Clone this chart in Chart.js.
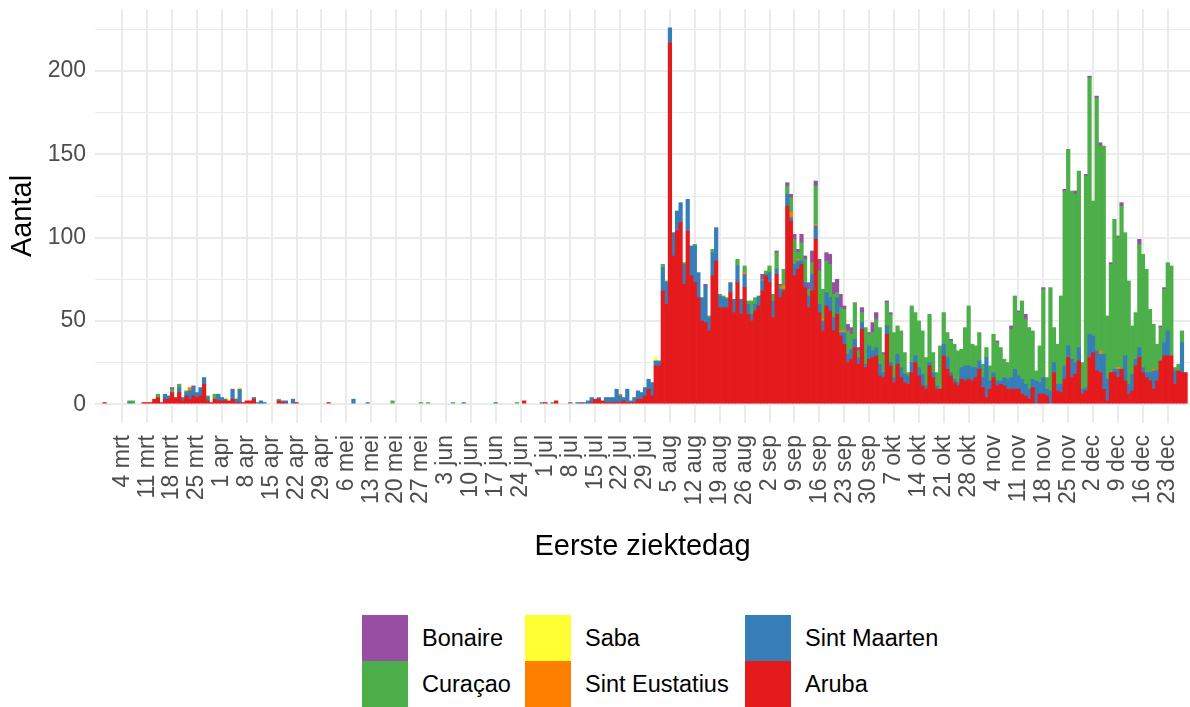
<!DOCTYPE html>
<html lang="nl">
<head>
<meta charset="utf-8">
<title>Eerste ziektedag</title>
<script src="https://cdn.jsdelivr.net/npm/chart.js@4.4.1/dist/chart.umd.min.js"></script>
<style>
  html, body { margin: 0; padding: 0; background: #fff; }
  #wrap { position: relative; width: 1190px; height: 707px; overflow: hidden;
          font-family: "Liberation Sans", Arial, sans-serif; }
  #chart { position: absolute; left: 0; top: 0; }
  .key { position: absolute; width: 46px; height: 46px; }
  .lbl { position: absolute; height: 46px; line-height: 46px; font-size: 23.5px; color: #000; white-space: nowrap; }
</style>
</head>
<body>
<div id="wrap">
  <canvas id="chart" width="1190" height="590"></canvas>
  <div id="legend"></div>
</div>
<script>
// eerste dag in de reeksen = 26 feb 2020 (4 mrt = dag 0), 7 dagen per regel (wo t/m di)
const DAY0 = -7;

// weeklabels op de x-as (woensdagen)
const tickLabels = [
  "4 mrt", "11 mrt", "18 mrt", "25 mrt", "1 apr", "8 apr", "15 apr", "22 apr", "29 apr",
  "6 mei", "13 mei", "20 mei", "27 mei", "3 jun", "10 jun", "17 jun", "24 jun",
  "1 jul", "8 jul", "15 jul", "22 jul", "29 jul", "5 aug", "12 aug", "19 aug", "26 aug",
  "2 sep", "9 sep", "16 sep", "23 sep", "30 sep", "7 okt", "14 okt", "21 okt", "28 okt",
  "4 nov", "11 nov", "18 nov", "25 nov", "2 dec", "9 dec", "16 dec", "23 dec"
];
const yTicks = [0, 50, 100, 150, 200];
const yMinor = [25, 75, 125, 175, 225];

const aruba = [
  0,0,1,0,0,0,0,  0,0,0,0,0,0,1,  1,1,3,4,1,3,3,  7,4,7,2,5,3,5,
  4,5,12,2,1,3,2, 2,2,2,3,1,1,1,  2,2,3,0,0,0,0,  0,0,2,1,1,0,0,
  1,0,0,0,0,0,0,  0,0,1,0,0,0,0,  0,0,0,0,0,0,0,  0,0,0,0,0,0,0,
  0,0,0,0,0,0,0,  0,0,0,0,0,0,0,  0,0,0,0,0,0,0,  0,0,0,0,0,0,0,
  0,0,0,0,0,0,0,  0,2,0,0,0,0,0,  1,0,0,2,0,0,0,  0,0,0,0,0,0,1,
  3,3,2,1,1,1,1,  1,2,1,1,1,3,3,  5,9,5,23,23,68,60,
  217,89,104,109,72,104,77,  73,64,50,49,44,77,86,  58,58,58,67,55,73,54,
  70,54,50,56,59,68,77,  73,52,78,64,68,119,110,  77,81,84,70,58,68,99,
  55,44,59,56,44,54,41,  36,25,27,34,24,45,22,  27,28,29,17,16,42,23,
  13,24,16,13,12,19,25,  17,11,9,23,16,9,9,  29,21,17,13,11,15,14,
  15,14,16,21,10,4,9,  16,11,12,11,9,9,9,  9,6,5,3,10,0,6,
  6,5,0,19,8,7,15,  28,16,18,26,6,8,28,  31,20,19,9,2,19,19,
  16,21,14,6,8,23,28,  19,16,14,9,14,26,29,  29,29,12,20,19,19,0
];
const sintMaarten = [
  0,0,0,0,0,0,0,  0,0,1,0,0,0,0,  0,0,0,0,0,3,2,  0,0,3,2,2,5,5,
  3,5,4,2,0,0,4,  2,1,0,6,2,8,0,  0,0,1,1,2,1,0,  0,0,0,1,1,0,3,
  0,0,0,0,0,0,0,  0,0,0,0,0,0,0,  0,0,3,0,0,0,1,  0,0,0,0,0,0,0,
  0,0,0,0,0,0,0,  0,0,0,0,0,0,0,  0,0,0,0,0,1,0,  0,0,0,0,0,0,0,
  1,0,0,0,0,0,0,  0,0,0,0,0,0,1,  0,0,0,0,0,0,0,  0,0,1,0,0,2,3,
  0,1,0,3,3,3,8,  4,2,8,1,3,5,4,  5,6,8,3,3,14,13,
  9,14,12,12,12,19,18,  22,15,14,22,8,14,20,  7,6,5,6,8,10,9,
  8,6,4,4,6,6,1,  6,10,3,5,1,7,2,  7,5,2,3,7,10,8,
  5,6,8,8,8,10,2,  7,5,6,5,4,4,2,  8,4,5,7,3,5,2,
  3,6,6,5,5,6,4,  5,7,2,2,3,2,0,  7,7,2,2,2,7,9,
  8,8,6,5,6,24,5,  3,3,2,5,6,7,12,  8,9,7,6,5,14,7,
  10,4,8,6,4,5,8,  7,11,7,8,3,2,14,  10,12,11,21,13,0,2,
  5,0,15,6,10,4,6,  3,3,5,11,6,0,8,  15,0,8,0,18,0,0
];
const sintEustatius = [
  0,0,0,0,0,0,0,  0,0,0,0,0,0,0,  0,0,0,0,0,0,0,  0,0,0,0,0,2,0,
  0,0,0,0,0,0,0,  0,0,0,0,0,0,0,  0,0,0,0,0,0,0,  0,0,0,0,0,0,0,
  0,0,0,0,0,0,0,  0,0,0,0,0,0,0,  0,0,0,0,0,0,0,  0,0,0,0,0,0,0,
  0,0,0,0,0,0,0,  0,0,0,0,0,0,0,  0,0,0,0,0,0,0,  0,0,0,0,0,0,0,
  0,0,0,0,0,0,0,  0,0,0,0,0,0,0,  0,0,0,0,0,0,0,  0,0,0,0,0,0,0,
  0,0,0,0,0,0,0,  1,0,0,0,0,0,0,  0,0,0,0,0,0,0,
  0,0,0,0,0,0,0,  0,0,0,0,0,0,0,  0,0,0,0,0,0,0,
  1,0,0,0,0,0,0,  0,0,0,0,2,0,3,  0,1,0,0,0,0,1,
  0,1,0,0,0,0,1,  1,0,0,0,0,0,0,  0,0,0,0,0,0,0,
  0,0,0,0,0,0,0,  0,0,0,0,0,0,0,  0,0,0,0,0,0,0,
  0,0,0,0,0,0,0,  0,0,0,0,0,0,0,  0,0,0,0,0,0,0,
  0,0,0,0,0,0,0,  0,0,0,0,0,0,0,  0,0,2,0,0,0,0,
  1,0,0,0,0,0,0,  0,0,0,1,0,0,0,  0,0,0,0,0,0,0
];
const saba = [
  0,0,0,0,0,0,0,  0,0,0,0,0,0,0,  0,0,0,0,0,0,0,  0,0,0,0,0,0,0,
  0,0,0,0,0,0,0,  0,1,0,0,1,1,0,  0,0,0,0,0,0,0,  0,0,0,0,0,0,0,
  0,0,0,0,0,0,0,  0,0,0,0,0,0,0,  0,0,0,0,0,0,0,  0,0,0,0,0,0,0,
  0,0,0,0,0,0,0,  0,0,0,0,0,0,0,  0,0,0,0,0,0,0,  0,0,0,0,0,0,0,
  0,0,0,0,0,0,0,  0,0,0,0,0,0,0,  0,0,0,0,0,0,0,  0,0,0,0,0,0,0,
  0,0,0,0,0,0,0,  0,0,0,0,0,0,0,  0,0,0,2,0,0,0,
  0,0,0,0,0,0,0,  0,0,0,0,0,0,0,  0,0,0,0,0,0,0,
  0,0,0,0,0,0,0,  0,0,0,0,0,0,0,  0,0,0,0,0,0,0,
  0,0,0,0,0,0,0,  0,0,0,0,0,0,0,  0,0,0,0,0,0,0,
  0,0,0,0,0,0,0,  0,0,0,0,0,0,0,  0,0,0,0,0,0,0,
  0,0,0,0,0,0,0,  0,0,0,0,0,0,0,  0,0,0,0,0,0,0,
  0,0,0,0,0,0,0,  0,0,0,0,0,0,0,  0,0,0,0,0,0,0,
  0,0,0,0,0,0,0,  0,0,0,0,0,0,0,  0,0,0,0,0,0,0
];
const curacao = [
  0,0,0,0,0,0,0,  0,0,1,2,0,0,0,  0,0,0,2,0,0,0,  2,0,2,0,1,0,0,
  0,0,0,1,0,3,0,  0,0,0,0,0,0,0,  0,0,0,0,0,0,0,  0,0,1,0,0,0,0,
  0,0,0,0,0,0,0,  0,0,0,0,0,0,0,  0,0,0,0,0,0,0,  0,0,0,0,0,0,2,
  0,0,0,0,0,0,0,  1,0,1,0,0,0,0,  0,0,1,0,0,0,0,  0,0,0,0,0,0,0,
  0,0,0,0,0,0,1,  0,0,0,0,0,0,0,  0,0,1,0,0,0,0,  0,0,0,0,0,0,0,
  0,0,0,0,0,0,0,  0,0,0,0,0,0,0,  0,0,0,0,0,2,1,
  0,0,0,0,1,0,0,  1,0,0,0,1,2,0,  1,1,1,0,0,4,0,
  4,2,8,4,0,1,2,  4,4,10,2,10,5,9,  15,4,11,14,4,7,23,
  20,18,19,20,14,3,14,  13,14,9,22,4,6,22,  7,11,17,22,11,14,29,
  27,17,22,13,2,34,26,  28,26,17,29,12,8,26,  19,15,19,21,19,11,23,
  36,14,13,17,8,6,9,  23,23,20,11,10,29,44,  38,47,39,37,29,6,22,
  53,7,62,21,24,53,105,  118,101,101,106,16,127,154,  81,152,123,125,38,65,90,
  78,98,74,62,29,28,62,  68,62,38,27,16,20,32,  41,54,2,4,7,0,0
];
const bonaire = [
  0,0,0,0,0,0,0,  0,0,0,0,0,0,0,  0,0,0,0,0,0,0,  1,0,0,0,0,0,1,
  0,0,0,0,0,0,0,  0,0,0,0,0,0,0,  0,0,0,0,0,0,0,  0,0,0,0,0,0,0,
  0,0,0,0,0,0,0,  0,0,0,0,0,0,0,  0,0,0,0,0,0,0,  0,0,0,0,0,0,0,
  0,0,0,0,0,0,0,  0,0,0,0,0,0,0,  0,0,0,0,0,0,0,  0,0,0,0,0,0,0,
  0,0,0,0,0,0,0,  0,0,0,0,0,0,0,  0,0,0,0,0,0,0,  1,0,0,1,1,0,0,
  0,0,0,0,0,0,0,  0,0,0,0,0,0,0,  0,0,0,0,0,0,0,
  0,0,0,0,0,0,0,  0,0,0,1,0,0,0,  0,0,0,0,0,0,0,
  0,0,0,0,0,3,0,  0,0,1,1,0,2,2,  3,2,5,2,4,7,3,
  7,0,5,6,7,8,8,  2,4,4,0,2,3,0,  1,6,4,0,1,1,1,
  0,0,0,0,0,0,0,  0,0,0,0,0,0,0,  0,0,1,0,0,0,0,
  0,0,0,0,0,0,0,  0,1,0,0,0,2,0,  1,0,3,0,0,0,0,
  1,0,0,0,0,0,1,  0,0,2,0,0,1,1,  0,1,2,0,0,1,0,
  1,2,0,0,0,0,3,  0,0,0,0,0,1,1,  0,0,0,0,0,0,0
];

// stapelvolgorde: onderaan eerst
const series = [
  { label: "Aruba", data: aruba, color: "#E41A1C" },
  { label: "Sint Maarten", data: sintMaarten, color: "#377EB8" },
  { label: "Sint Eustatius", data: sintEustatius, color: "#FF7F00" },
  { label: "Saba", data: saba, color: "#FFFF33" },
  { label: "Curaçao", data: curacao, color: "#4DAF4A" },
  { label: "Bonaire", data: bonaire, color: "#984EA3" }
];

// legenda zoals in het origineel: 3 kolommen, 2 rijen
const legendItems = [
  { label: "Bonaire", color: "#984EA3", col: 0, row: 0 },
  { label: "Curaçao", color: "#4DAF4A", col: 0, row: 1 },
  { label: "Saba", color: "#FFFF33", col: 1, row: 0 },
  { label: "Sint Eustatius", color: "#FF7F00", col: 1, row: 1 },
  { label: "Sint Maarten", color: "#377EB8", col: 2, row: 0 },
  { label: "Aruba", color: "#E41A1C", col: 2, row: 1 }
];

(function () {
  const GRID = "#ebebeb";
  const FONT = '"Liberation Sans", Arial, sans-serif';
  Chart.defaults.font.family = FONT;

  const tickDays = tickLabels.map((_, i) => i * 7);
  const yAll = yTicks.concat(yMinor).sort((a, b) => a - b);
  const toPoints = (arr) => arr.map((v, i) => ({ x: i + DAY0, y: v || null }));

  const ctx = document.getElementById("chart").getContext("2d");
  new Chart(ctx, {
    type: "bar",
    data: {
      datasets: series.map((s) => ({
        label: s.label,
        data: toPoints(s.data),
        backgroundColor: s.color,
        borderWidth: 0,
        barPercentage: 1,
        categoryPercentage: 1
      }))
    },
    options: {
      responsive: false,
      animation: false,
      devicePixelRatio: 1,
      layout: { padding: { top: 9, right: 0, bottom: 0, left: 0 } },
      plugins: { legend: { display: false }, tooltip: { enabled: false } },
      scales: {
        x: {
          type: "linear",
          stacked: true,
          offset: false,
          min: -7.68,
          max: 300.25,
          afterBuildTicks: (s) => { s.ticks = tickDays.map((v) => ({ value: v })); },
          afterFit: (s) => { s.height = 167; s.paddingLeft = 0; s.paddingRight = 0; },
          grid: { color: GRID, lineWidth: 2, drawTicks: false, offset: false },
          border: { display: false },
          ticks: {
            autoSkip: false,
            minRotation: 90,
            maxRotation: 90,
            padding: 12,
            color: "#4d4d4d",
            font: { size: 23 },
            callback: (v, i) => tickLabels[i]
          },
          title: {
            display: true,
            text: "Eerste ziektedag",
            color: "#000",
            font: { size: 29 },
            padding: { top: 0, bottom: 26 }
          }
        },
        y: {
          stacked: true,
          min: -11.3,
          max: 237.3,
          afterBuildTicks: (s) => { s.ticks = yAll.map((v) => ({ value: v })); },
          afterFit: (s) => { s.width = 95; s.paddingTop = 0; s.paddingBottom = 0; },
          grid: {
            color: GRID,
            lineWidth: (c) => (c.tick && yTicks.includes(c.tick.value) ? 2 : 1),
            drawTicks: false
          },
          border: { display: false },
          ticks: {
            padding: 9,
            color: "#4d4d4d",
            font: { size: 23 },
            callback: (v) => (yTicks.includes(v) ? String(v) : "")
          },
          title: {
            display: true,
            text: "Aantal",
            color: "#000",
            font: { size: 29 },
            padding: { top: 6, bottom: 0 }
          }
        }
      }
    }
  });

  // legenda (HTML)
  const colX = [362, 525, 745];
  const rowY = [615, 661];
  const box = document.getElementById("legend");
  box.innerHTML = legendItems
    .map((it) => `
      <div class="key" style="left:${colX[it.col]}px;top:${rowY[it.row]}px;background:${it.color}"></div>
      <div class="lbl" style="left:${colX[it.col] + 60}px;top:${rowY[it.row]}px">${it.label}</div>`)
    .join("");
})();
</script>
</body>
</html>
